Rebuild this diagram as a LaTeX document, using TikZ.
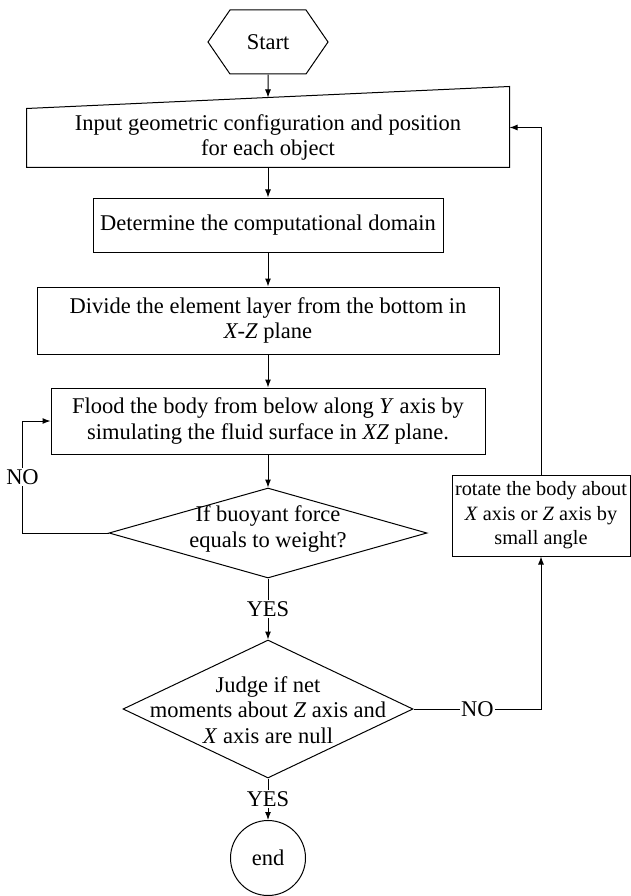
\documentclass[tikz,border=0pt]{standalone}
\usepackage{fontspec}
\setmainfont{Liberation Serif}
\usetikzlibrary{arrows.meta,shapes.geometric,shapes.symbols,calc}
\begin{document}
\begin{tikzpicture}[x=1pt,y=-1pt,line width=1pt,
    >={Latex[length=8pt,width=6pt]},
    txt/.style={font=\fontsize{22.5}{25.5}\selectfont,align=center,inner sep=0pt},
    box/.style={txt,draw,rectangle},
    lbl/.style={txt,fill=white,inner sep=1.5pt}]
      \useasboundingbox (0,0) rectangle (631,896);
      \node[txt,draw,signal,signal to=east and west,signal pointer angle=111,
        minimum width=120,minimum height=64] (start) at (268,42){Start};
      \node[txt,minimum width=482,minimum height=59] (input) at (268,137.5)
        {Input geometric configuration and position\\for each object};
      \path (input.south west) ++(0,59pt) coordinate (inNW);
      \path (input.south east) ++(0,81pt) coordinate (inNE);
      \draw (input.south west) -- (input.south east) -- (inNE) -- (inNW) -- cycle;
      \node[box,minimum width=350,minimum height=54] (domain) at (268,225)
        {Determine the computational domain};
      \node[box,minimum width=462,minimum height=67] (divide) at (268,320.5)
        {Divide the element layer from the bottom in\\\textit{X-Z} plane};
      \node[box,minimum width=434,minimum height=66] (flood) at (268,421)
        {Flood the body from below along \textit{Y} axis by\\simulating the fluid surface in \textit{XZ} plane.};
      \node[draw,diamond,inner sep=0pt,minimum width=318,minimum height=90] (buoy) at (268,533){};
      \node[txt] at ([yshift=4pt]buoy){If buoyant force\\equals to weight?};
      \node[draw,diamond,inner sep=0pt,minimum width=290,minimum height=138] (judge) at (268,709){};
      \node[txt] at ([yshift=-1pt]judge)
        {Judge if net\\moments about \textit{Z} axis and\\\textit{X} axis are null};
      \node[draw,rectangle,inner sep=0pt,align=center,font=\fontsize{20.3}{24.5}\selectfont,
        minimum width=178,minimum height=81] (rotate) at (541,515.5)
        {rotate the body about\\\textit{X} axis or \textit{Z} axis by\\small angle};
      \node[txt,draw,circle,minimum size=75] (finish) at (268,858){end};
      \draw[->] (start) -- ($(inNW)!0.5!(inNE)$);
      \draw[->] (input) -- (domain);
      \draw[->] (domain) -- (divide);
      \draw[->] (divide) -- (flood);
      \draw[->] (flood) -- (buoy);
      \draw[->] (buoy.west) -- ++(-86pt,0) |- node[lbl,pos=0.25]{NO} (flood.west);
      \draw[->] (buoy.south) -- node[lbl]{YES} (judge.north);
      \draw[->] (judge.south) -- node[lbl]{YES} (finish.north);
      \draw[->] (judge.east) -| node[lbl,pos=0.25]{NO} (rotate.south);
      \draw[->] (rotate.north) |- ([yshift=10pt]input.east);
    \end{tikzpicture}
\end{document}
